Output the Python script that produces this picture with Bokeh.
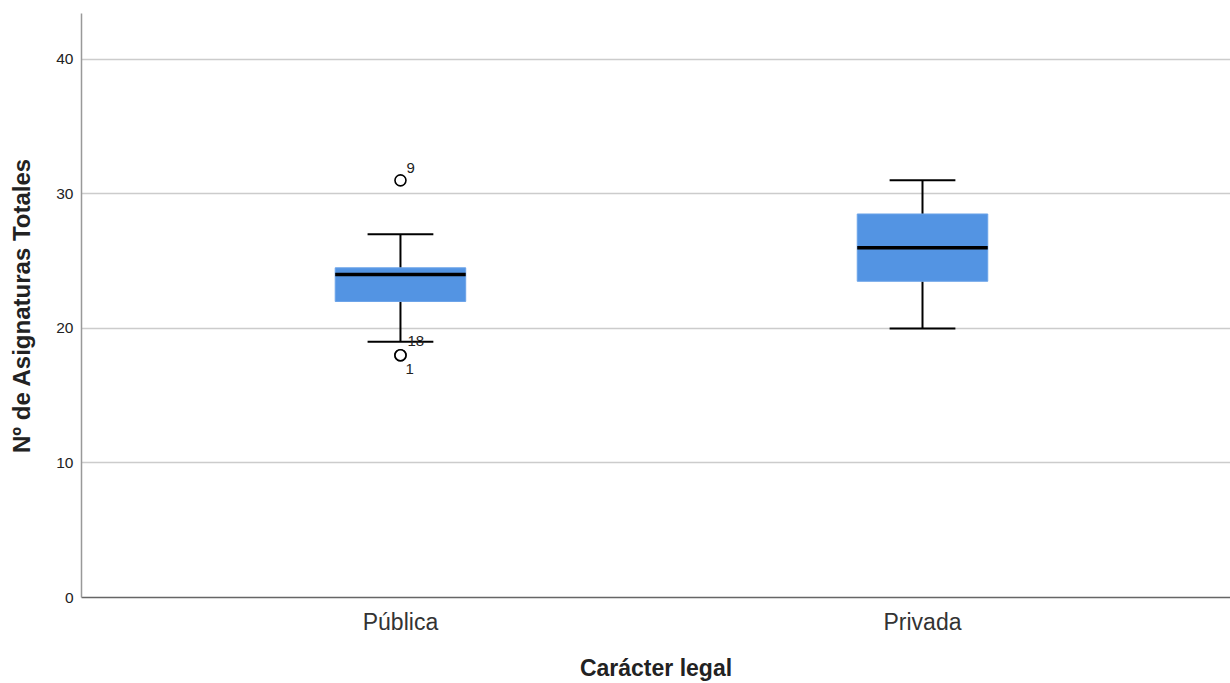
from bokeh.plotting import figure
from bokeh.models import ColumnDataSource, FixedTicker, Range1d
from bokeh.core.properties import value
from bokeh.embed import file_html
from bokeh.resources import INLINE

# ---- data ----
categories = ["Pública", "Privada"]
q1 = [22.0, 23.5]
q3 = [24.5, 28.5]
medians = [24.0, 26.0]
whisker_low = [19.0, 20.0]
whisker_high = [27.0, 31.0]

outlier_category = ["Pública", "Pública", "Pública"]
outlier_value = [31.0, 18.0, 18.0]
outlier_case = ["9", "1", "18"]

y_ticks = [0, 10, 20, 30, 40]

# ---- build ----
xpos = [i + 1 for i in range(len(categories))]
cat_pos = {c: x for c, x in zip(categories, xpos)}
BOX_W = 0.25
CAP_W = 0.126

box_src = ColumnDataSource(dict(
    x=xpos, q1=q1, q3=q3, med=medians, lo=whisker_low, hi=whisker_high,
    x0=[x - BOX_W / 2 for x in xpos], x1=[x + BOX_W / 2 for x in xpos],
    c0=[x - CAP_W / 2 for x in xpos], c1=[x + CAP_W / 2 for x in xpos],
))
out_x = [cat_pos[c] for c in outlier_category]
out_src = ColumnDataSource(dict(x=out_x, y=outlier_value, label=outlier_case,
                                dx=[6, 5, 7], dy=[-12, 14, -14]))

FONT = "Liberation Sans"

p = figure(width=1230, height=683, output_backend="svg", toolbar_location=None,
           x_range=Range1d(0.389, 2.59), y_range=Range1d(0, 43.4),
           min_border_left=81, min_border_right=0, min_border_top=13, min_border_bottom=85)
p.outline_line_color = None
p.background_fill_color = "white"
p.border_fill_color = "white"

# whiskers
p.segment(x0="x", y0="q3", x1="x", y1="hi", source=box_src, line_color="black", line_width=2)
p.segment(x0="x", y0="q1", x1="x", y1="lo", source=box_src, line_color="black", line_width=2)
p.segment(x0="c0", y0="hi", x1="c1", y1="hi", source=box_src, line_color="black", line_width=2)
p.segment(x0="c0", y0="lo", x1="c1", y1="lo", source=box_src, line_color="black", line_width=2)
# boxes
p.vbar(x="x", width=BOX_W, bottom="q1", top="q3", source=box_src,
       fill_color="#5394e3", line_color="#6ba3e8", line_width=1)
# medians
p.segment(x0="x0", y0="med", x1="x1", y1="med", source=box_src, line_color="black", line_width=3.5)

# outliers
p.scatter(x="x", y="y", source=out_src, marker="circle", size=11,
          fill_color="white", line_color="black", line_width=1.6)
p.text(x="x", y="y", text="label", source=out_src, x_offset="dx", y_offset="dy",
       text_font=value(FONT), text_font_size="15px", text_color="#222222",
       text_align="left", text_baseline="middle")

# axes
p.xaxis.ticker = FixedTicker(ticks=xpos)
p.xaxis.major_label_overrides = {x: c for x, c in zip(xpos, categories)}
p.xaxis.major_label_text_font = FONT
p.xaxis.major_label_text_font_size = "23px"
p.xaxis.major_label_text_color = "#333333"
p.xaxis.major_label_standoff = 11
p.xaxis.axis_label = "Carácter legal"
p.xaxis.axis_label_text_font = FONT
p.xaxis.axis_label_text_font_size = "23px"
p.xaxis.axis_label_text_font_style = "bold"
p.xaxis.axis_label_text_color = "#222222"
p.xaxis.axis_label_standoff = 17
p.xaxis.axis_line_color = "#666666"
p.xaxis.axis_line_width = 1.5

p.yaxis.ticker = FixedTicker(ticks=y_ticks)
p.yaxis.major_label_text_font = FONT
p.yaxis.major_label_text_font_size = "15.5px"
p.yaxis.major_label_text_color = "#222222"
p.yaxis.major_label_standoff = 8
p.yaxis.axis_label = "Nº de Asignaturas Totales"
p.yaxis.axis_label_text_font = FONT
p.yaxis.axis_label_text_font_size = "24px"
p.yaxis.axis_label_text_font_style = "bold"
p.yaxis.axis_label_text_color = "#222222"
p.yaxis.axis_label_standoff = 18
p.yaxis.axis_line_color = "#999999"
p.yaxis.axis_line_width = 1.5

for ax in (p.xaxis, p.yaxis):
    ax.major_tick_line_color = None
    ax.minor_tick_line_color = None
    ax.major_tick_out = 0
    ax.major_tick_in = 0
    ax.minor_tick_out = 0
    ax.minor_tick_in = 0

p.xgrid.grid_line_color = None
p.ygrid.grid_line_color = "#cccccc"
p.ygrid.grid_line_width = 1.5

open("out.html", "w").write(file_html(p, INLINE))
